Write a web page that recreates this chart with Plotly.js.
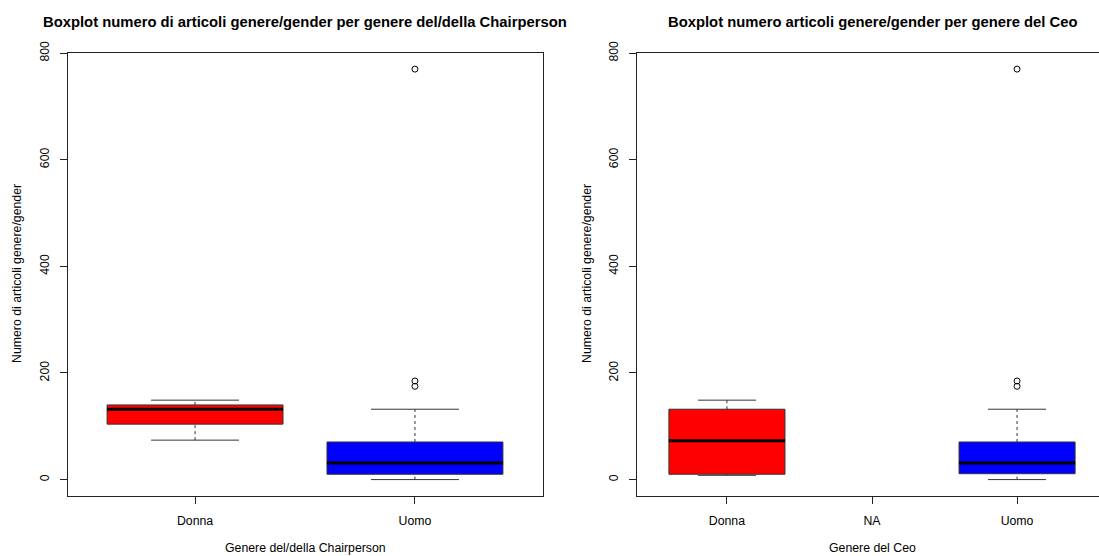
<!DOCTYPE html>
<html>
<head>
<meta charset="utf-8">
<script src="https://cdn.plot.ly/plotly-3.0.1.min.js"></script>
<style>
  html, body { margin: 0; padding: 0; background: #fff; overflow: hidden; }
  #chart { width: 1115px; height: 556px; }
</style>
</head>
<body>
<div id="chart"></div>
<script>
// Panel 1: articles by gender of the Chairperson
const chairCategories = ['Donna', 'Uomo'];
const chairLow    = [74, 0];
const chairQ1     = [104, 10];
const chairMedian = [132, 31];
const chairQ3     = [140, 70.5];
const chairHigh   = [149, 132];
const chairOutliersUomo = [770, 185, 175];

// Panel 2: articles by gender of the CEO
const ceoCategories = ['Donna', 'NA', 'Uomo'];
const ceoLow    = [8, null, 0];
const ceoQ1     = [10, null, 11];
const ceoMedian = [73, null, 31];
const ceoQ3     = [132, null, 70.5];
const ceoHigh   = [149, null, 132];
const ceoOutliersUomo = [770, 185, 175];

const boxColors = { 'Donna': '#ff0000', 'Uomo': '#0000ff' };
const FONT = 'Liberation Sans, Arial, Helvetica, sans-serif';
const BOXWEX = 0.8;

function panelTraces(cats, low, q1, med, q3, high, outliers, xa, ya) {
  const traces = [];
  const dashX = [], dashY = [], capX = [], capY = [], medX = [], medY = [];
  cats.forEach((c, i) => {
    if (med[i] === null) return;
    const x = i + 1;
    traces.push({
      type: 'box', xaxis: xa, yaxis: ya, x: [x],
      q1: [q1[i]], median: [med[i]], q3: [q3[i]],
      lowerfence: [q1[i]], upperfence: [q3[i]],
      width: BOXWEX, whiskerwidth: 0, boxpoints: false,
      fillcolor: boxColors[c], line: { color: '#333', width: 1 },
      hoverinfo: 'skip', showlegend: false
    });
    dashX.push(x, x, null, x, x, null);
    dashY.push(q3[i], high[i], null, low[i], q1[i], null);
    const hw = BOXWEX / 4;
    capX.push(x - hw, x + hw, null, x - hw, x + hw, null);
    capY.push(high[i], high[i], null, low[i], low[i], null);
    const bw = BOXWEX / 2;
    medX.push(x - bw, x + bw, null);
    medY.push(med[i], med[i], null);
  });
  traces.push({ type: 'scatter', mode: 'lines', xaxis: xa, yaxis: ya, x: dashX, y: dashY,
    line: { color: '#333', width: 1, dash: '3px,3px' }, hoverinfo: 'skip', showlegend: false });
  traces.push({ type: 'scatter', mode: 'lines', xaxis: xa, yaxis: ya, x: capX, y: capY,
    line: { color: '#333', width: 1 }, hoverinfo: 'skip', showlegend: false });
  traces.push({ type: 'scatter', mode: 'lines', xaxis: xa, yaxis: ya, x: medX, y: medY,
    line: { color: '#000', width: 3 }, hoverinfo: 'skip', showlegend: false });
  const uomoX = cats.indexOf('Uomo') + 1;
  traces.push({ type: 'scatter', mode: 'markers', xaxis: xa, yaxis: ya,
    x: outliers.map(() => uomoX), y: outliers,
    marker: { symbol: 'circle-open', size: 6, color: '#000', line: { width: 1 } },
    hoverinfo: 'skip', showlegend: false });
  return traces;
}

const data = [].concat(
  panelTraces(chairCategories, chairLow, chairQ1, chairMedian, chairQ3, chairHigh, chairOutliersUomo, 'x', 'y'),
  panelTraces(ceoCategories, ceoLow, ceoQ1, ceoMedian, ceoQ3, ceoHigh, ceoOutliersUomo, 'x2', 'y2')
);

const W = 1115, H = 556;
const yRange = [-30.8, 800.8];
const yTicks = [0, 200, 400, 600, 800];

function xAxis(domain, cats, n) {
  return {
    domain: domain, range: [0.5 - 0.04 * n, n + 0.5 + 0.04 * n],
    tickvals: cats.map((_, i) => i + 1), ticktext: cats,
    ticks: 'outside', ticklen: 7, tickcolor: '#222', tickwidth: 1,
    showline: true, mirror: true, linecolor: '#222', linewidth: 1,
    showgrid: false, zeroline: false, automargin: false,
    tickfont: { family: FONT, size: 12.3, color: '#000' }, ticklabelstandoff: 6
  };
}
function yAxis(anchor) {
  return {
    domain: [(H - 496) / H, (H - 52.7) / H], range: yRange, anchor: anchor,
    tickvals: yTicks, ticktext: yTicks.map(String), tickangle: -90,
    ticks: 'outside', ticklen: 7, tickcolor: '#222', tickwidth: 1,
    showline: true, mirror: true, linecolor: '#222', linewidth: 1,
    showgrid: false, zeroline: false, automargin: false,
    tickfont: { family: FONT, size: 12.3, color: '#000' }, ticklabelstandoff: 6
  };
}

const leftDom = [67.5 / W, 542.5 / W];
const rightDom = [637 / W, 1107 / W];
const cx1 = (leftDom[0] + leftDom[1]) / 2, cx2 = (rightDom[0] + rightDom[1]) / 2;

const layout = {
  width: W, height: H,
  margin: { l: 0, r: 0, t: 0, b: 0 },
  paper_bgcolor: '#fff', plot_bgcolor: '#fff',
  boxmode: 'overlay', showlegend: false,
  font: { family: FONT, size: 12, color: '#000' },
  xaxis: Object.assign(xAxis(leftDom, chairCategories, 2), { anchor: 'y' }),
  yaxis: yAxis('x'),
  xaxis2: Object.assign(xAxis(rightDom, ceoCategories, 3), { anchor: 'y2' }),
  yaxis2: yAxis('x2'),
  annotations: [
    { text: '<b>Boxplot numero di articoli genere/gender per genere del/della Chairperson</b>',
      xref: 'paper', yref: 'paper', x: cx1, y: (H - 22) / H, xanchor: 'center', yanchor: 'middle',
      showarrow: false, font: { family: FONT, size: 14.8, color: '#000' } },
    { text: '<b>Boxplot numero articoli genere/gender per genere del Ceo</b>',
      xref: 'paper', yref: 'paper', x: cx2, y: (H - 22) / H, xanchor: 'center', yanchor: 'middle',
      showarrow: false, font: { family: FONT, size: 14.8, color: '#000' } },
    { text: 'Genere del/della Chairperson',
      xref: 'paper', yref: 'paper', x: cx1, y: (H - 548) / H, xanchor: 'center', yanchor: 'middle',
      showarrow: false, font: { family: FONT, size: 12.3, color: '#000' } },
    { text: 'Genere del Ceo',
      xref: 'paper', yref: 'paper', x: cx2, y: (H - 548) / H, xanchor: 'center', yanchor: 'middle',
      showarrow: false, font: { family: FONT, size: 12.3, color: '#000' } },
    { text: 'Numero di articoli genere/gender', textangle: -90,
      xref: 'paper', yref: 'paper', x: 17 / W, y: (H - 274) / H, xanchor: 'center', yanchor: 'middle',
      showarrow: false, font: { family: FONT, size: 12.3, color: '#000' } },
    { text: 'Numero di articoli genere/gender', textangle: -90,
      xref: 'paper', yref: 'paper', x: 587 / W, y: (H - 274) / H, xanchor: 'center', yanchor: 'middle',
      showarrow: false, font: { family: FONT, size: 12.3, color: '#000' } }
  ]
};

Plotly.newPlot('chart', data, layout, { displayModeBar: false, staticPlot: true });
</script>
</body>
</html>
